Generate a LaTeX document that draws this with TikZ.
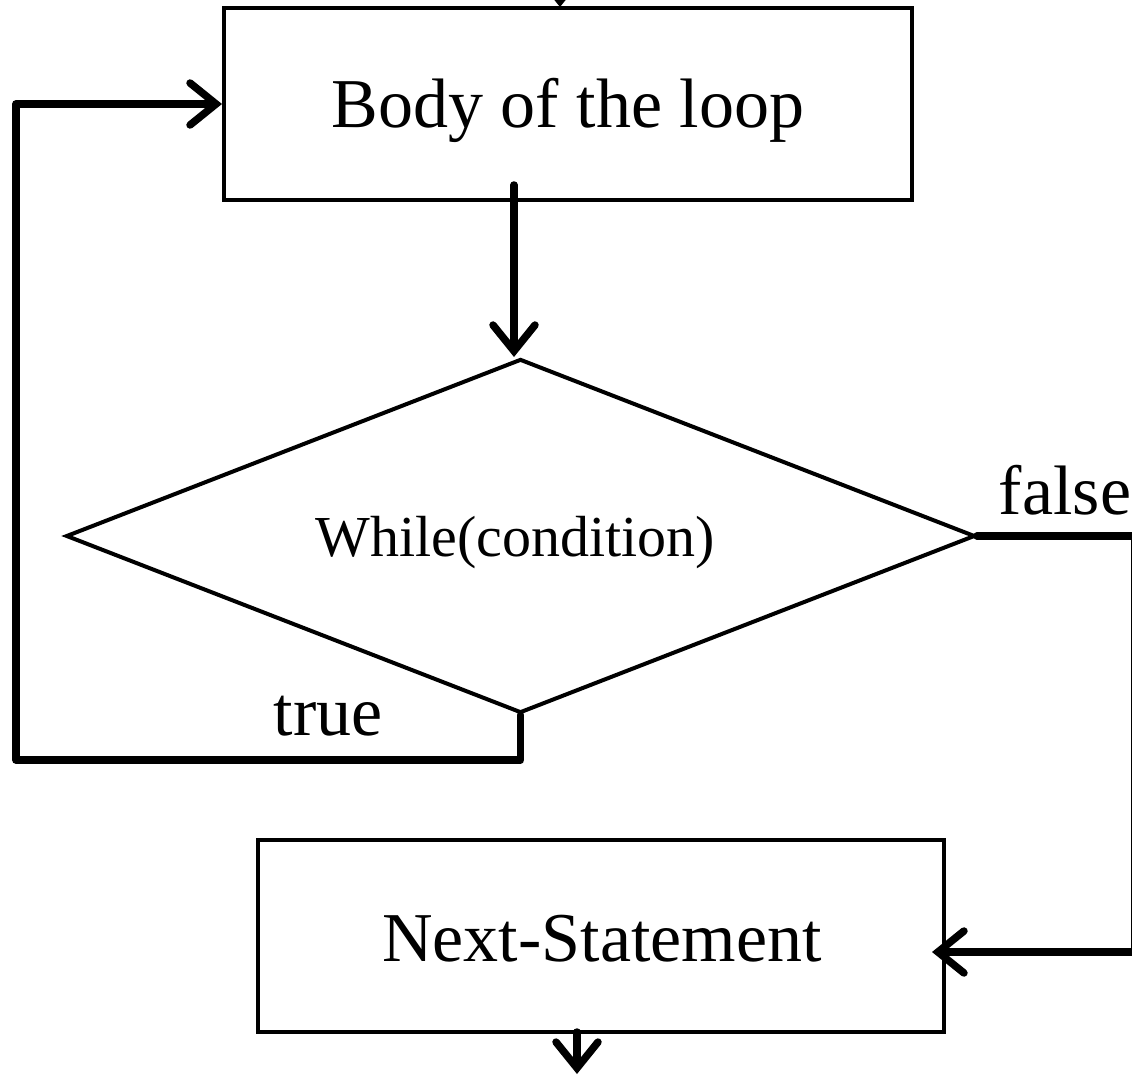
\documentclass[tikz,border=0pt]{standalone}
\usepackage{fontspec}
\setmainfont{Liberation Serif}
\usetikzlibrary{arrows.meta,shapes.geometric}

\tikzset{
  box/.style={draw, line width=4pt, rectangle, inner sep=0pt},
  decision/.style={draw, line width=4pt, diamond, inner sep=0pt, aspect=2.57},
  flow/.style={line width=7.5pt, line join=round, line cap=round},
  flowarrow/.style={flow, -{Straight Barb[length=26pt, width=42pt, line cap=round]}},
  big/.style={font=\fontsize{70}{80}\selectfont},
  mid/.style={font=\fontsize{58}{66}\selectfont},
}

\begin{document}
\begin{tikzpicture}[x=1pt, y=-1pt]
  \useasboundingbox (0,0) rectangle (1132,1075);
  \clip (0,0) rectangle (1132,1075);

  % blocks
  \node[box, minimum width=688pt, minimum height=192pt] (body) at (568,104) {};
  \node[big] (bodytxt) at (568,110) {Body of the loop};
  \node[decision, minimum width=909pt, minimum height=354pt] (cond) at (520.5,536) {};
  \node[mid] (condtxt) at (515,543) {While(condition)};
  \node[box, minimum width=686pt, minimum height=192pt] (next) at (601,936) {};
  \node[big] (nexttxt) at (602,939) {Next-Statement};

  % labels
  \node[big] (falsetxt) at (1065,490) {false};
  \node[big] (truetxt) at (328,716) {true};

  % helper points
  \coordinate (inabove) at (560,-70);
  \coordinate (bodyout) at (514,185);
  \coordinate (condin) at (514,357);
  \coordinate (truecorner) at (cond.south |- 0,760);
  \coordinate (leftlow) at (16,760);
  \coordinate (lefthigh) at (16,104);
  \coordinate (rightup) at (1134.5,536);
  \coordinate (rightlow) at (1134.5,952);
  \coordinate (nextin) at (932,952);
  \coordinate (nextout) at (577,1032);
  \coordinate (outend) at (577,1074);

  % connectors
  \draw[flowarrow] (inabove) -- (560,7);
  \draw[flowarrow] (bodyout) -- (condin);
  \draw[flowarrow] (cond.south) -- (truecorner) -- (leftlow) -- (lefthigh) -- (body.west);
  \draw[flow] (cond.east) -- (rightup) -- (rightlow);
  \draw[flowarrow] (rightlow) -- (nextin);
  \draw[flowarrow] (nextout) -- (outend);
\end{tikzpicture}
\end{document}
